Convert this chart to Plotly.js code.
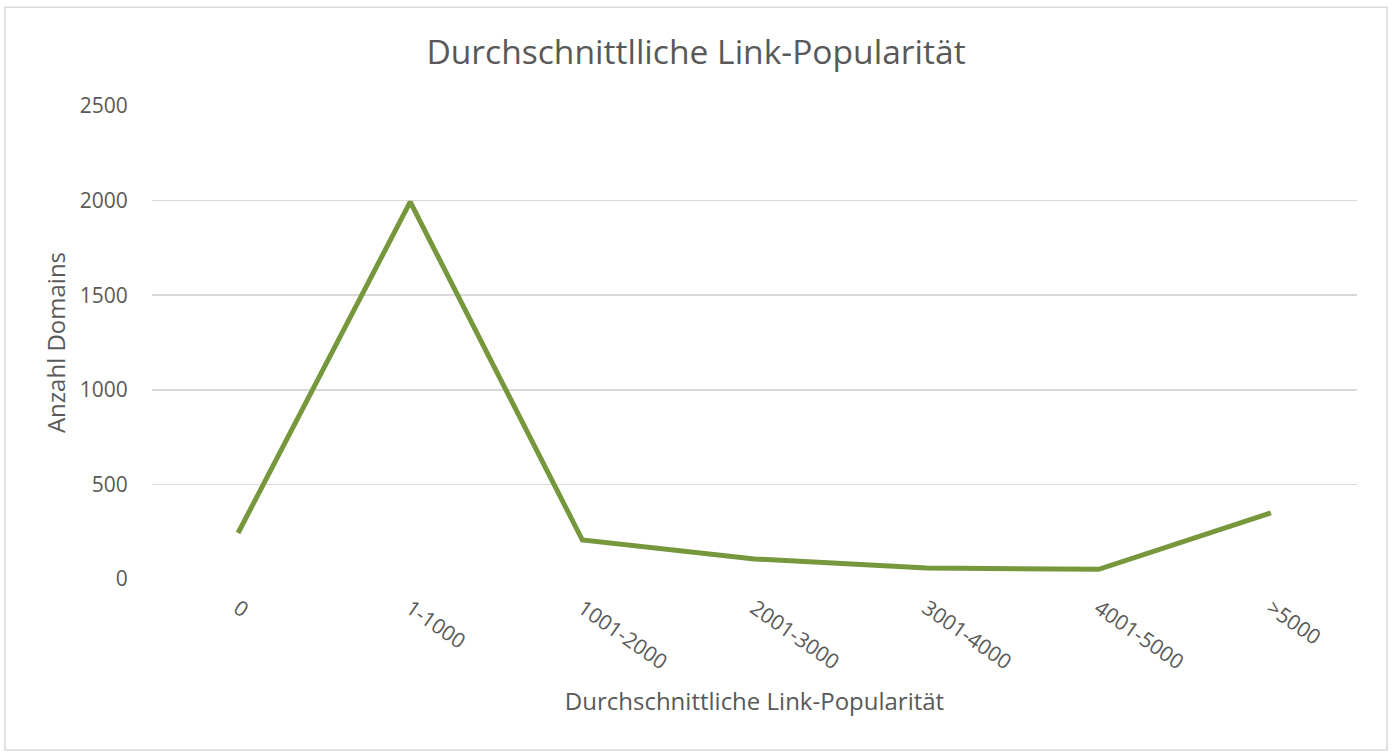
<!DOCTYPE html>
<html>
<head>
<meta charset="utf-8">
<script src="https://cdn.plot.ly/plotly-3.0.1.min.js"></script>
<style>html,body{margin:0;padding:0;background:#fff;}#chart{width:1392px;height:752px;}</style>
</head>
<body>
<div id="chart"></div>
<script>
const categories = ["0", "1-1000", "1001-2000", "2001-3000", "3001-4000", "4001-5000", ">5000"];
const domains = [243, 1993, 206, 106, 58, 51, 350];
const yTicks = [0, 500, 1000, 1500, 2000, 2500];

const font = "'Open Sans', 'Noto Sans', sans-serif";
const grey = "#595959";

const trace = {
  x: categories,
  y: domains,
  type: "scatter",
  mode: "lines",
  line: {color: "#77973d", width: 5},
  hoverinfo: "skip"
};

const layout = {
  width: 1392, height: 752,
  margin: {l: 152, r: 35, t: 106, b: 173},
  paper_bgcolor: "#ffffff", plot_bgcolor: "#ffffff",
  showlegend: false,
  font: {family: font, color: grey},
  title: {text: "Durchschnittlliche Link-Popularität", font: {family: font, size: 33.6, color: grey},
          x: 0.5, xanchor: "center", y: 0.931, yanchor: "middle", xref: "container"},
  xaxis: {
    type: "category", range: [-0.5, 6.5],
    showgrid: false, zeroline: false, showline: false,
    ticks: "outside", ticklen: 8, tickcolor: "rgba(0,0,0,0)",
    tickangle: 35, tickfont: {family: font, size: 21, color: grey},
    title: {text: "Durchschnittliche Link-Popularität", font: {family: font, size: 24, color: grey}, standoff: 19},
    fixedrange: true
  },
  yaxis: {
    range: [0, 2500], tickvals: yTicks,
    showgrid: true, gridcolor: "#d9d9d9", gridwidth: 1.5,
    zeroline: false, showline: false,
    ticks: "outside", ticklen: 19, tickcolor: "rgba(0,0,0,0)",
    tickfont: {family: font, size: 21, color: grey},
    title: {text: "Anzahl Domains", font: {family: font, size: 24, color: grey}, standoff: 7},
    fixedrange: true
  },
  shapes: [{
    type: "rect", xref: "paper", yref: "paper",
    x0: -0.122, x1: 1.0249, y0: -0.3615, y1: 1.209,
    line: {color: "#d9d9d9", width: 1.5}, fillcolor: "rgba(0,0,0,0)", layer: "below"
  }]
};

Plotly.newPlot("chart", [trace], layout, {displayModeBar: false, staticPlot: true});
</script>
</body>
</html>
